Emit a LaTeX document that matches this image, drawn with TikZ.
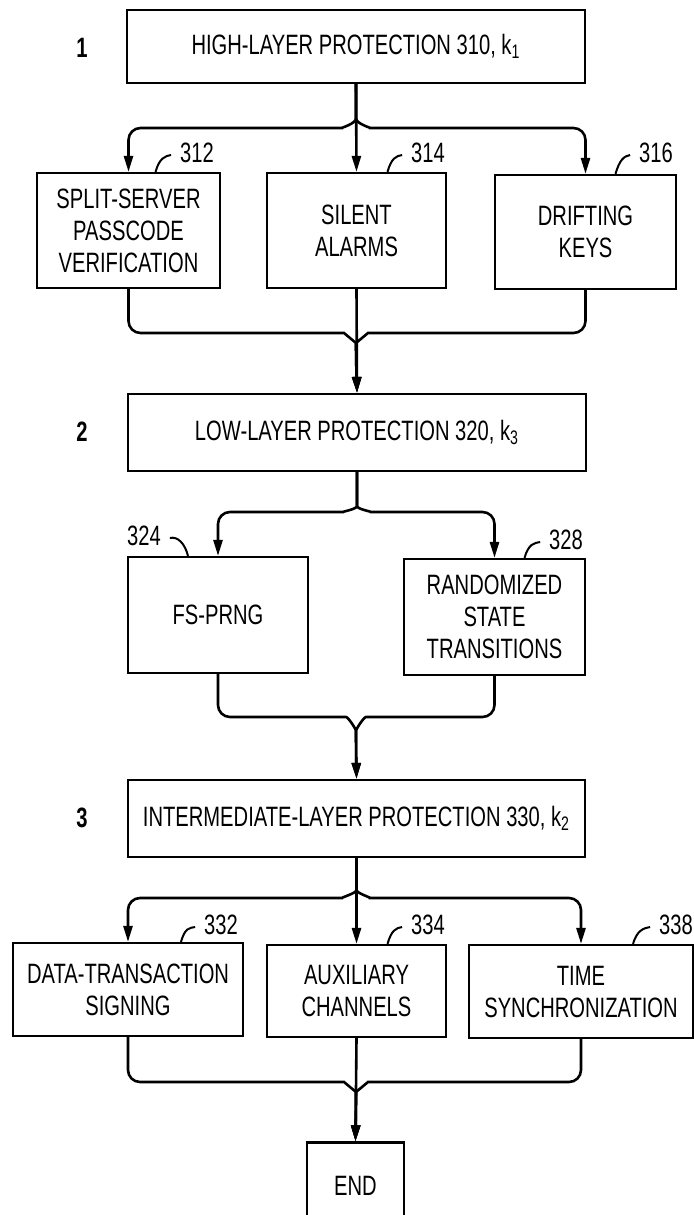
\documentclass[tikz,border=0pt]{standalone}
\usepackage{fontspec}
\newfontfamily\patfont{Liberation Sans}[FakeStretch=0.72]
\usetikzlibrary{arrows.meta,calc}

\begin{document}
\begin{tikzpicture}[
  x=0.5pt, y=-0.5pt,
  every node/.style={font=\patfont\fontsize{14}{16}\selectfont},
  box/.style={rectangle, draw, line width=1.1pt, align=center, inner sep=2pt},
  wire/.style={line width=1.3pt, rounded corners=6pt},
  arr/.style={wire, -{Triangle[length=8pt,width=4.5pt]}},
  lead/.style={line width=1pt},
]
\useasboundingbox (0,0) rectangle (693,1215);

% Level 1
\node[font=\patfont\bfseries\fontsize{14}{16}\selectfont] (n1) at (82,48) {1};
\node[box, minimum width=229pt, minimum height=36.5pt] (high) at (356,46.5)
      {HIGH-LAYER PROTECTION 310, k\textsubscript{1}};

\node[box, minimum width=91.5pt, minimum height=57.5pt] (b312) at (128.5,230.5)
      {SPLIT-SERVER\\PASSCODE\\VERIFICATION};
\node[box, minimum width=89.5pt, minimum height=57.5pt] (b314) at (356.5,230.5)
      {SILENT\\ALARMS};
\node[box, minimum width=90.5pt, minimum height=57pt] (b316) at (585.5,232)
      {DRIFTING\\KEYS};

\node (l312) at (197,153) {312};
\node (l314) at (428,153) {314};
\node (l316) at (656,153) {316};
\draw[lead] ($(b312.north)+(27,0)$) .. controls +(4,-14) and +(-6,1) .. ($(l312.west)+(-2,2)$);
\draw[lead] ($(b314.north)+(31,0)$) .. controls +(4,-14) and +(-6,1) .. ($(l314.west)+(-2,2)$);
\draw[lead] ($(b316.north)+(30,0)$) .. controls +(4,-14) and +(-6,1) .. ($(l316.west)+(-2,2)$);

% split 1
\coordinate (s1) at (356,128);
\draw[arr] (high.south) -- ++(0,22) .. controls +(0,18) and +(10,0) .. ($(s1)+(-26,0)$)
      -- (s1 -| b312.north) -- (b312.north);
\draw[arr] (high.south) -- (b314.north);
\draw[arr] (high.south) -- ++(0,22) .. controls +(0,18) and +(-10,0) .. ($(s1)+(26,0)$)
      -- (s1 -| b316.north) -- (b316.north);

% Level 2
\node[font=\patfont\bfseries\fontsize{14}{16}\selectfont] (n2) at (82,432) {2};
\node[box, minimum width=229pt, minimum height=38.5pt] (low) at (357,432.5)
      {LOW-LAYER PROTECTION 320, k\textsubscript{3}};

% merge 1
\coordinate (m1) at (356,333);
\draw[arr] (b312.south) -- (b312.south |- m1) -- ($(m1)+(-24,0)$)
      .. controls +(12,0) and +(0,-12) .. ($(m1)+(0,22)$) -- (low.north);
\draw[arr] (b314.south) -- (low.north);
\draw[arr] (b316.south) -- (b316.south |- m1) -- ($(m1)+(24,0)$)
      .. controls +(-12,0) and +(0,-12) .. ($(m1)+(0,22)$) -- (low.north);

\node[box, minimum width=90pt, minimum height=58pt] (b324) at (218,615) {FS-PRNG};
\node[box, minimum width=90.5pt, minimum height=58pt] (b328) at (494.5,617)
      {RANDOMIZED\\STATE\\TRANSITIONS};

\node (l324) at (144,536) {324};
\node (l328) at (566,540) {328};
\draw[lead] ($(l324.east)+(2,2)$) .. controls +(8,-2) and +(-3,-12) .. ($(b324.north)+(-30,0)$);
\draw[lead] ($(b328.north)+(30,0)$) .. controls +(4,-14) and +(-6,1) .. ($(l328.west)+(-2,2)$);

% split 2
\coordinate (s2) at (357,512);
\draw[arr] (low.south) -- ++(0,22) .. controls +(0,15) and +(10,0) .. ($(s2)+(-26,0)$)
      -- (s2 -| b324.north) -- (b324.north);
\draw[arr] (low.south) -- ++(0,22) .. controls +(0,15) and +(-10,0) .. ($(s2)+(26,0)$)
      -- (s2 -| b328.north) -- (b328.north);

% Level 3
\node[font=\patfont\bfseries\fontsize{14}{16}\selectfont] (n3) at (82,818) {3};
\node[box, minimum width=228.5pt, minimum height=38.5pt] (mid) at (356.5,818.5)
      {INTERMEDIATE-LAYER PROTECTION 330, k\textsubscript{2}};

% merge 2
\coordinate (m2) at (356,717);
\draw[arr] (b324.south) -- (b324.south |- m2) -- ($(m2)+(-22,0)$)
      .. controls +(14,0) and +(0,-14) .. ($(m2)+(0,26)$) -- (mid.north);
\draw[arr] (b328.south) -- (b328.south |- m2) -- ($(m2)+(22,0)$)
      .. controls +(-14,0) and +(0,-14) .. ($(m2)+(0,26)$) -- (mid.north);

\node[box, minimum width=115pt, minimum height=46.5pt] (b332) at (128,989.5)
      {DATA-TRANSACTION\\SIGNING};
\node[box, minimum width=89.5pt, minimum height=46pt] (b334) at (356.5,991)
      {AUXILIARY\\CHANNELS};
\node[box, minimum width=112pt, minimum height=46.5pt] (b338) at (581,991.5)
      {TIME\\SYNCHRONIZATION};

\node (l332) at (221,925) {332};
\node (l334) at (428,925) {334};
\node (l338) at (676,925) {338};
\draw[lead] ($(b332.north)+(53,0)$) .. controls +(4,-14) and +(-6,1) .. ($(l332.west)+(-2,2)$);
\draw[lead] ($(b334.north)+(31,0)$) .. controls +(4,-14) and +(-6,1) .. ($(l334.west)+(-2,2)$);
\draw[lead] ($(b338.north)+(52,0)$) .. controls +(4,-14) and +(-6,1) .. ($(l338.west)+(-2,2)$);

% split 3
\coordinate (s3) at (356,898);
\draw[arr] (mid.south) -- ++(0,20) .. controls +(0,15) and +(10,0) .. ($(s3)+(-26,0)$)
      -- (s3 -| b332.north) -- (b332.north);
\draw[arr] (mid.south) -- (b334.north);
\draw[arr] (mid.south) -- ++(0,20) .. controls +(0,15) and +(-10,0) .. ($(s3)+(26,0)$)
      -- (s3 -| b338.north) -- (b338.north);

% End
\node[box, minimum width=48.5pt, minimum height=43.5pt] (end) at (355.5,1186) {END};

% merge 3
\coordinate (m3) at (356,1082);
\draw[arr] (b332.south) -- (b332.south |- m3) -- ($(m3)+(-24,0)$)
      .. controls +(12,0) and +(0,-12) .. ($(m3)+(0,22)$) -- (end.north);
\draw[arr] (b334.south) -- (end.north);
\draw[arr] (b338.south) -- (b338.south |- m3) -- ($(m3)+(24,0)$)
      .. controls +(-12,0) and +(0,-12) .. ($(m3)+(0,22)$) -- (end.north);
\end{tikzpicture}
\end{document}
